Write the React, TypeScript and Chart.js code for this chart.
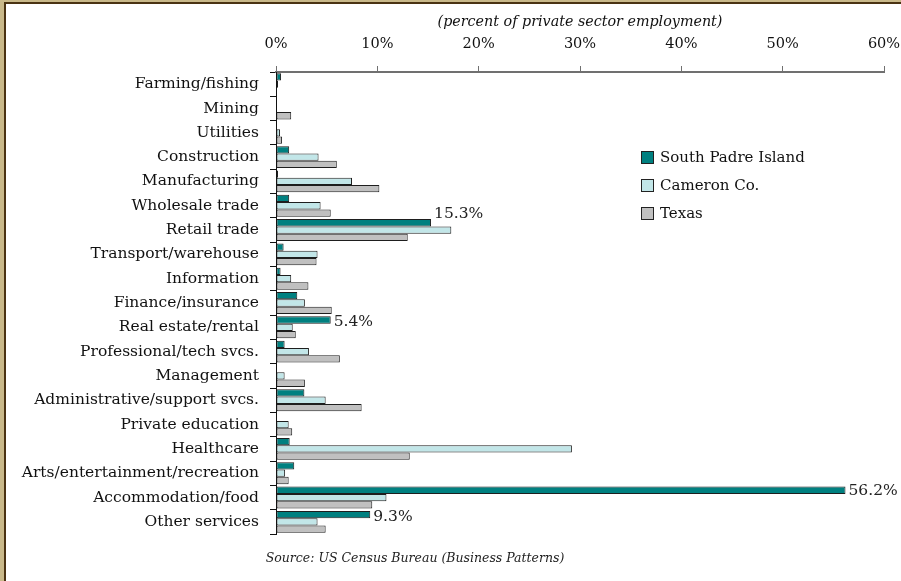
import React, { useEffect, useRef } from "react";
import { Chart, registerables } from "chart.js";

Chart.register(...registerables);

const categories = [
  "Farming/fishing",
  "Mining",
  "Utilities",
  "Construction",
  "Manufacturing",
  "Wholesale trade",
  "Retail trade",
  "Transport/warehouse",
  "Information",
  "Finance/insurance",
  "Real estate/rental",
  "Professional/tech svcs.",
  "Management",
  "Administrative/support svcs.",
  "Private education",
  "Healthcare",
  "Arts/entertainment/recreation",
  "Accommodation/food",
  "Other services",
];

const southPadre = [0.5, 0, 0, 1.3, 0.2, 1.3, 15.3, 0.75, 0.45, 2.1, 5.4, 0.85, 0, 2.8, 0.1, 1.35, 1.8, 56.2, 9.3];
const cameron = [0.2, 0, 0.4, 4.2, 7.5, 4.4, 17.3, 4.1, 1.5, 2.85, 1.65, 3.25, 0.85, 4.9, 1.25, 29.2, 0.9, 10.9, 4.1];
const texas = [0.1, 1.5, 0.6, 6.0, 10.2, 5.4, 13.0, 4.0, 3.2, 5.5, 1.95, 6.3, 2.85, 8.45, 1.6, 13.2, 1.25, 9.5, 4.9];

const seriesNames = ["South Padre Island", "Cameron Co.", "Texas"];
const seriesColors = ["#008080", "#C2E6E8", "#C0C0C0"];

const labelledPoints = [
  { index: 6, text: "15.3%", dy: -9 },
  { index: 10, text: "5.4%", dy: 2 },
  { index: 17, text: "56.2%", dy: 1 },
  { index: 18, text: "9.3%", dy: 2 },
];

const xTicks = [0, 10, 20, 30, 40, 50, 60];
const axisTitle = "(percent of private sector employment)";
const sourceText = "Source: US Census Bureau (Business Patterns)";

const SERIF = "'DejaVu Serif', serif";

export default function App() {
  const canvasRef = useRef<HTMLCanvasElement | null>(null);

  useEffect(() => {
    document.body.style.margin = "0";
    const canvas = canvasRef.current;
    if (!canvas) return;

    const overlay = {
      id: "overlay",
      afterDatasetsDraw(chart: any) {
        const ctx = chart.ctx;
        const meta = chart.getDatasetMeta(0);
        ctx.save();
        ctx.font = `15.5px ${SERIF}`;
        ctx.fillStyle = "#222";
        ctx.textAlign = "left";
        ctx.textBaseline = "middle";
        labelledPoints.forEach((p) => {
          const el = meta.data[p.index];
          if (!el) return;
          ctx.fillText(p.text, el.x + 3, el.y + p.dy);
        });
        ctx.restore();
      },
      afterDraw(chart: any) {
        const ctx = chart.ctx;
        ctx.save();
        const lx = 641;
        const ys = [157.5, 185.5, 213.5];
        ctx.font = `15px ${SERIF}`;
        ctx.textBaseline = "middle";
        ctx.textAlign = "left";
        seriesNames.forEach((name, i) => {
          ctx.fillStyle = seriesColors[i];
          ctx.fillRect(lx, ys[i] - 6.5, 13, 13);
          ctx.strokeStyle = "#222";
          ctx.lineWidth = 1;
          ctx.strokeRect(lx + 0.5, ys[i] - 6, 12, 12);
          ctx.fillStyle = "#111";
          ctx.fillText(name, lx + 19, ys[i] + 1);
        });
        ctx.font = `italic 12.5px ${SERIF}`;
        ctx.fillStyle = "#222";
        ctx.textAlign = "center";
        ctx.fillText(sourceText, 415, 559);
        ctx.restore();
      },
    };

    const chart = new Chart(canvas, {
      type: "bar",
      data: {
        labels: categories,
        datasets: [southPadre, cameron, texas].map((d, i) => ({
          label: seriesNames[i],
          data: d,
          backgroundColor: seriesColors[i],
          borderColor: "#1e1e1e",
          borderWidth: 1,
          borderSkipped: false,
          categoryPercentage: 0.9,
          barPercentage: 1.0,
        })),
      },
      options: {
        indexAxis: "y",
        animation: false,
        responsive: false,
        maintainAspectRatio: false,
        layout: { padding: { left: 0, top: 0, right: 17, bottom: 47 } },
        plugins: {
          legend: { display: false },
          tooltip: { enabled: false },
          title: { display: false },
        },
        scales: {
          x: {
            position: "top",
            min: 0,
            max: 60,
            afterBuildTicks(scale: any) {
              scale.ticks = xTicks.map((v) => ({ value: v }));
            },
            afterFit(scale: any) {
              scale.height = 72;
              scale.paddingLeft = 0;
              scale.paddingRight = 0;
            },
            ticks: {
              callback: (v: any) => `${v}%`,
              color: "#111",
              font: { family: SERIF, size: 14.5 },
              padding: 13,
              maxRotation: 0,
            },
            grid: {
              drawOnChartArea: false,
              drawTicks: true,
              tickLength: 6,
              color: "#707070",
              tickColor: "#707070",
            },
            border: { display: true, color: "#707070", width: 2 },
            title: {
              display: true,
              text: axisTitle,
              color: "#111",
              font: { family: SERIF, size: 14.3, style: "italic" },
              padding: { top: 14, bottom: 0 },
            },
          },
          y: {
            afterFit(scale: any) {
              scale.width = 276;
              scale.paddingTop = 0;
              scale.paddingBottom = 0;
            },
            ticks: {
              color: "#111",
              font: { family: SERIF, size: 15.5 },
              padding: 11,
              autoSkip: false,
            },
            grid: {
              drawOnChartArea: false,
              drawTicks: true,
              tickLength: 6,
              color: "#111",
              tickColor: "#111",
              offset: true,
            },
            border: { display: true, color: "#111", width: 1 },
          },
        },
      },
      plugins: [overlay],
    } as any);

    return () => chart.destroy();
  }, []);

  return (
    <div style={{ position: "relative", width: 901, height: 581, background: "#fff", overflow: "hidden" }}>
      <canvas ref={canvasRef} width={901} height={581} style={{ position: "absolute", left: 0, top: 0, width: 901, height: 581 }} />
      <div style={{ position: "absolute", left: 0, top: 0, width: 901, height: 2, background: "#C9B98A" }} />
      <div style={{ position: "absolute", left: 0, top: 0, width: 4, height: 581, background: "#C9B98A" }} />
      <div style={{ position: "absolute", left: 4, top: 2, width: 897, height: 2, background: "#4A3312" }} />
      <div style={{ position: "absolute", left: 4, top: 2, width: 2, height: 579, background: "#4A3312" }} />
    </div>
  );
}
